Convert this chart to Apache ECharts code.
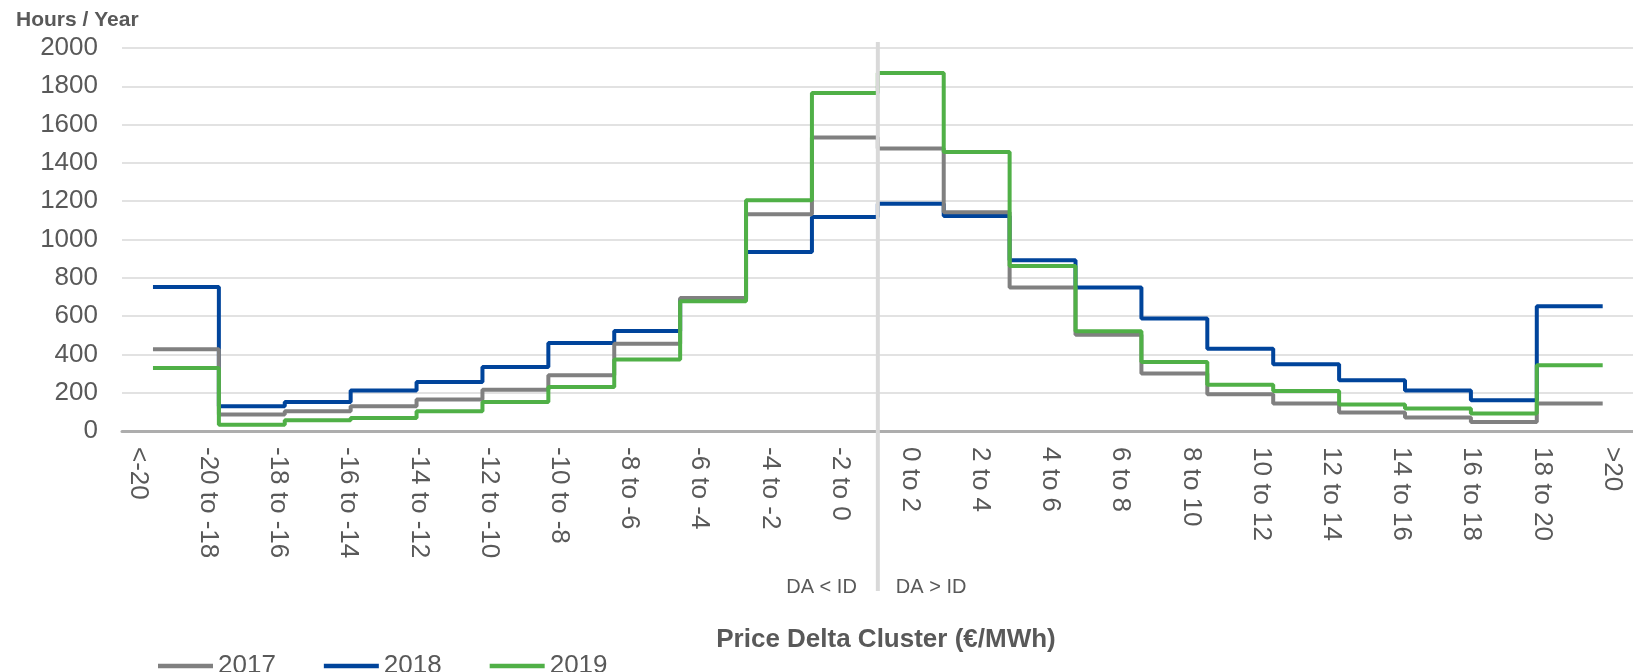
<!DOCTYPE html>
<html>
<head>
<meta charset="utf-8">
<script src="https://cdn.jsdelivr.net/npm/echarts@6/dist/echarts.min.js"></script>
<style>
  html, body { margin: 0; padding: 0; background: #fff; }
  #chart { width: 1633px; height: 672px; }
</style>
</head>
<body>
<div id="chart"></div>
<script>
const clusters = ["<-20", "-20 to -18", "-18 to -16", "-16 to -14", "-14 to -12", "-12 to -10",
  "-10 to -8", "-8 to -6", "-6 to -4", "-4 to -2", "-2 to 0", "0 to 2", "2 to 4", "4 to 6",
  "6 to 8", "8 to 10", "10 to 12", "12 to 14", "14 to 16", "16 to 18", "18 to 20", ">20"]

const hours2017 = [427, 86, 103, 129, 164, 216, 291, 456, 695, 1132, 1532,
  1475, 1142, 749, 503, 300, 192, 143, 96, 70, 47, 143]
const hours2018 = [752, 129, 151, 212, 256, 334, 460, 522, 687, 935, 1117,
  1187, 1123, 891, 749, 587, 430, 348, 265, 212, 160, 651]
const hours2019 = [329, 33, 56, 68, 103, 151, 230, 374, 677, 1205, 1765,
  1870, 1457, 862, 521, 360, 242, 209, 138, 117, 91, 343]

const yMin = 0
const yMax = 2000
const yStep = 200

const textColor = "#595959"
const font = "'Liberation Sans', Arial, sans-serif"

// each cluster drawn as a flat step from i to i+1
const stepData = (vals) =>
  vals.map((v, i) => [i, v]).concat([[vals.length, vals[vals.length - 1]]])

const chart = echarts.init(document.getElementById("chart"))

const lineSeries = (name, vals, color) => ({
  name: name,
  type: "line",
  xAxisIndex: 0,
  yAxisIndex: 0,
  step: "end",
  symbol: "none",
  data: stepData(vals),
  lineStyle: { width: 4, color: color },
  itemStyle: { color: color },
  emphasis: { disabled: true },
})

chart.setOption({
  animation: false,
  backgroundColor: "#fff",
  textStyle: { fontFamily: font },
  title: {
    text: "Hours / Year",
    left: 11,
    top: 5,
    textStyle: { fontSize: 21, fontWeight: "bold", color: textColor, fontFamily: font },
  },
  legend: {
    data: ["2017", "2018", "2019"],
    left: 153,
    top: 648,
    icon: "rect",
    itemWidth: 55,
    itemHeight: 4.5,
    itemGap: 48,
    selectedMode: false,
    textStyle: { fontSize: 26, color: textColor, fontFamily: font },
  },
  grid: [
    { left: 122, right: 0, top: 48, bottom: 241 },
    { left: 138, right: 21, top: 48, bottom: 241 },
  ],
  xAxis: [
    {
      type: "value",
      gridIndex: 0,
      min: -0.47,
      max: 22.46,
      axisLine: { show: true, onZero: false, lineStyle: { color: "#adadad", width: 3 } },
      axisTick: { show: false },
      axisLabel: { show: false },
      splitLine: { show: false },
    },
    {
      type: "category",
      gridIndex: 1,
      data: clusters,
      boundaryGap: false,
      axisLine: { show: false },
      axisTick: { show: false },
      axisLabel: {
        interval: 0,
        rotate: -90,
        margin: 16,
        fontSize: 26,
        color: textColor,
        fontFamily: font,
      },
    },
  ],
  yAxis: [
    {
      type: "value",
      gridIndex: 0,
      min: yMin,
      max: yMax,
      interval: yStep,
      axisLine: { show: false },
      axisTick: { show: false },
      axisLabel: {
        fontSize: 26,
        color: textColor,
        margin: 24,
        fontFamily: font,
        formatter: (v) => String(v),
      },
      splitLine: { lineStyle: { color: "#d9d9d9", width: 1.5 } },
    },
    { type: "value", gridIndex: 1, show: false },
  ],
  series: [
    lineSeries("2018", hours2018, "#00449b"),
    lineSeries("2017", hours2017, "#808080"),
    lineSeries("2019", hours2019, "#50b047"),
  ],
})

// DA / ID divider sits on the boundary between the negative and positive clusters
const divX = chart.convertToPixel({ xAxisIndex: 0 }, clusters.length / 2)

chart.setOption({
  graphic: [
    {
      type: "line",
      z: 10,
      shape: { x1: divX, y1: 42, x2: divX, y2: 591 },
      style: { stroke: "#d9d9d9", lineWidth: 4 },
    },
    {
      type: "text",
      z: 10,
      style: {
        text: "DA < ID",
        x: divX - 21,
        y: 587,
        align: "right",
        verticalAlign: "middle",
        fontSize: 20,
        fontFamily: font,
        fill: textColor,
      },
    },
    {
      type: "text",
      z: 10,
      style: {
        text: "DA > ID",
        x: divX + 18,
        y: 587,
        align: "left",
        verticalAlign: "middle",
        fontSize: 20,
        fontFamily: font,
        fill: textColor,
      },
    },
    {
      type: "text",
      z: 10,
      style: {
        text: "Price Delta Cluster (€/MWh)",
        x: 886,
        y: 640,
        align: "center",
        verticalAlign: "middle",
        fontSize: 26,
        fontWeight: "bold",
        fontFamily: font,
        fill: textColor,
      },
    },
  ],
})
</script>
</body>
</html>
